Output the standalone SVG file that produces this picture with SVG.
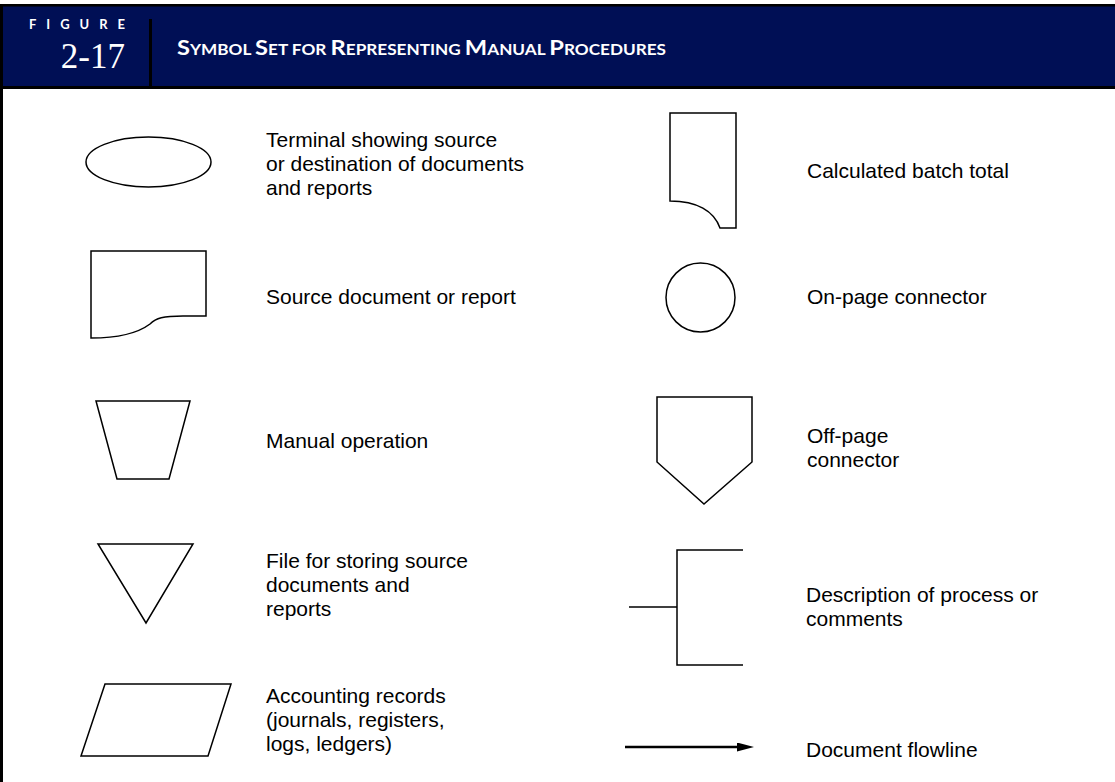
<svg xmlns="http://www.w3.org/2000/svg" width="1115" height="782" viewBox="0 0 1115 782">
<style>
.sym{fill:none;stroke:#000;stroke-width:1.5;stroke-linejoin:miter}
.lbl{font-family:"Liberation Sans",Arial,sans-serif;font-size:21px;fill:#000}
.hd{font-family:Lato,"Open Sans",sans-serif;font-weight:bold;fill:#fff}
</style>
<defs>
<marker id="ah" viewBox="0 0 10 10" refX="10" refY="5" markerWidth="17" markerHeight="9" markerUnits="userSpaceOnUse" orient="auto" preserveAspectRatio="none">
<path d="M0,0 L10,5 L0,10 Z" fill="#000"/>
</marker>
</defs>
<rect x="0" y="0" width="1115" height="782" fill="#fff"/>
<g id="header">
<rect x="0" y="4" width="1115" height="85" fill="#000"/>
<rect x="3" y="6.5" width="1112" height="79.5" fill="#000F55"/>
<rect x="149" y="19" width="3" height="68" fill="#000"/>
<text class="hd" x="29" y="29" font-size="13" textLength="96" lengthAdjust="spacing">FIGURE</text>
<text x="125" y="68" text-anchor="end" font-family="'Liberation Serif','Times New Roman',serif" font-size="35" fill="#fff">2-17</text>
<text class="hd" x="177" y="55" font-size="14.5" textLength="489" lengthAdjust="spacingAndGlyphs"><tspan font-size="20">S</tspan>YMBOL <tspan font-size="20">S</tspan>ET FOR <tspan font-size="20">R</tspan>EPRESENTING <tspan font-size="20">M</tspan>ANUAL <tspan font-size="20">P</tspan>ROCEDURES</text>
</g>
<rect x="0" y="89" width="3" height="693" fill="#000"/>
<g id="terminal">
<ellipse class="sym" cx="148.5" cy="162" rx="62.5" ry="25"/>
<text class="lbl" x="266" y="147">Terminal showing source</text>
<text class="lbl" x="266" y="171">or destination of documents</text>
<text class="lbl" x="266" y="195">and reports</text>
</g>
<g id="document">
<path class="sym" d="M91,251 H206 V316 H183 C163,316 156,318 150,324 C138,333 120,338 91,338 Z"/>
<text class="lbl" x="266" y="304">Source document or report</text>
</g>
<g id="manual-op">
<polygon class="sym" points="96,401 190,401 169,479 117,479"/>
<text class="lbl" x="266" y="448">Manual operation</text>
</g>
<g id="file">
<polygon class="sym" points="98,544 193,544 146,623"/>
<text class="lbl" x="266" y="568">File for storing source</text>
<text class="lbl" x="266" y="592">documents and</text>
<text class="lbl" x="266" y="616">reports</text>
</g>
<g id="records">
<polygon class="sym" points="105,684 231,684 208,756 81,756"/>
<text class="lbl" x="266" y="703">Accounting records</text>
<text class="lbl" x="266" y="727">(journals, registers,</text>
<text class="lbl" x="266" y="751">logs, ledgers)</text>
</g>
<g id="batch-total">
<path class="sym" d="M670,113 H736 V228 H720 C714,211 697,201 670,201 Z"/>
<text class="lbl" x="807" y="178">Calculated batch total</text>
</g>
<g id="on-page">
<circle class="sym" cx="700.5" cy="297.5" r="34.5"/>
<text class="lbl" x="807" y="304">On-page connector</text>
</g>
<g id="off-page">
<polygon class="sym" points="657,397 752,397 752,462 704,504 657,462"/>
<text class="lbl" x="807" y="443">Off-page</text>
<text class="lbl" x="807" y="467">connector</text>
</g>
<g id="annotation">
<path class="sym" d="M743,550 H677 V665 H743 M629,607 H677"/>
<text class="lbl" x="806" y="602">Description of process or</text>
<text class="lbl" x="806" y="626">comments</text>
</g>
<g id="connectors">
<line x1="625" y1="747" x2="740" y2="747" stroke="#000" stroke-width="2.5"/>
<line x1="738" y1="747" x2="754" y2="747" stroke="none" marker-end="url(#ah)"/>
</g>
<g id="flowline-label">
<text class="lbl" x="806" y="757">Document flowline</text>
</g>
</svg>
